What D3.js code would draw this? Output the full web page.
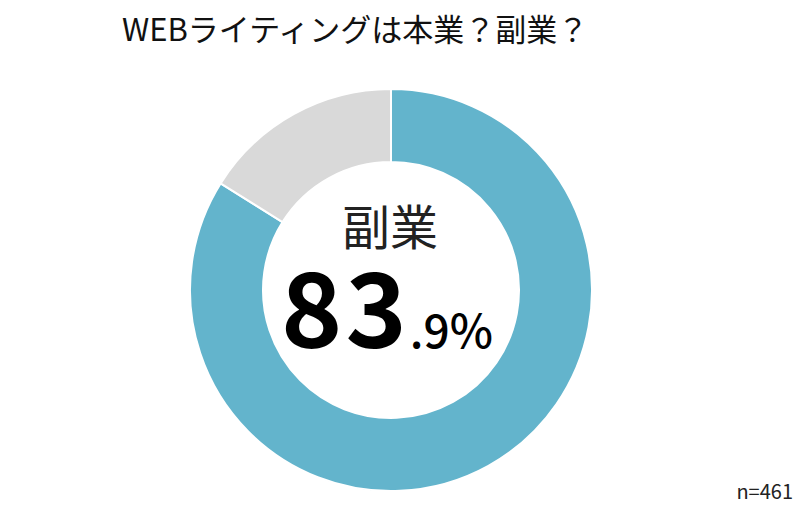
<!DOCTYPE html>
<html>
<head>
<meta charset="utf-8">
<script src="https://cdn.jsdelivr.net/npm/d3@7"></script>
<style>
	body { margin: 0; background: #fff; }
	text { font-family: "Noto Sans CJK JP", "Noto Sans", sans-serif; }
</style>
</head>
<body>
<svg id="chart" width="800" height="509"></svg>
<script>
const categories = [ '副業', '本業' ];
const values = [ 83.9, 16.1 ];
const colours = [ '#63B4CC', '#D9D9D9' ];
const title = 'WEBライティングは本業？副業？';
const note = 'n=461';

const svg = d3.select( '#chart' ),
	cx = 391,
	cy = 290,
	outerRadius = 201,
	innerRadius = 128;

const createPie = d3.pie().value( ( d ) => d ).sort( null ),
	createArc = d3.arc().innerRadius( innerRadius ).outerRadius( outerRadius );

const group = svg.append( 'g' ).attr( 'transform', `translate(${cx} ${cy})` );

group.selectAll( 'path.arc' )
	.data( createPie( values ) )
	.join( 'path' )
	.attr( 'class', 'arc' )
	.attr( 'd', createArc )
	.attr( 'fill', ( d, i ) => colours[ i ] )
	.attr( 'stroke', '#fff' )
	.attr( 'stroke-width', 2 );

// centre label
group.append( 'text' )
	.attr( 'text-anchor', 'middle' )
	.attr( 'x', -1 )
	.attr( 'y', -45 )
	.style( 'font-size', '48px' )
	.style( 'fill', '#222' )
	.text( categories[ 0 ] );

const parts = d3.format( '.1f' )( values[ 0 ] ).split( '.' );
const big = group.append( 'text' )
	.attr( 'text-anchor', 'middle' )
	.attr( 'x', -4 )
	.attr( 'y', 58 )
	.style( 'fill', '#000' );
big.append( 'tspan' )
	.style( 'font-size', '104px' )
	.style( 'font-weight', 'bold' )
	.style( 'letter-spacing', '3px' )
	.text( parts[ 0 ] );
big.append( 'tspan' )
	.style( 'font-size', '46px' )
	.style( 'font-weight', '500' )
	.text( '.' + parts[ 1 ] + '%' );

svg.append( 'text' )
	.attr( 'x', 122 )
	.attr( 'y', 41 )
	.style( 'font-size', '31px' )
	.style( 'fill', '#111' )
	.text( title );

svg.append( 'text' )
	.attr( 'x', 793 )
	.attr( 'y', 499 )
	.attr( 'text-anchor', 'end' )
	.style( 'font-size', '20px' )
	.style( 'fill', '#222' )
	.text( note );
</script>
</body>
</html>
